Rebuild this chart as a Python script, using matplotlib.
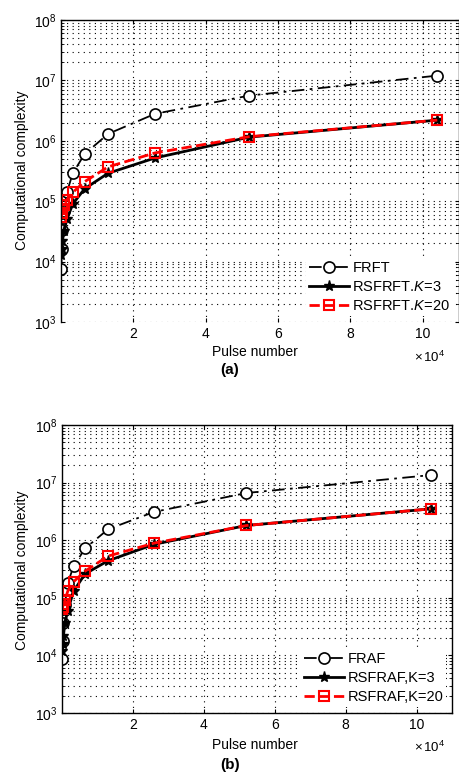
import matplotlib
matplotlib.use('Agg')
import matplotlib.pyplot as plt
import numpy as np

plt.rcParams['font.family'] = ['Liberation Sans', 'DejaVu Sans']
plt.rcParams['mathtext.fontset'] = 'custom'
plt.rcParams['mathtext.rm'] = 'Liberation Sans'
plt.rcParams['mathtext.it'] = 'Liberation Sans:italic'

# pulse number (x 10^4)
pulses = [0.0102, 0.0203, 0.0406, 0.081, 0.1625, 0.325, 0.65, 1.3, 2.6, 5.2, 10.4]

# (a) FRFT based detectors
frft = [7.5e3, 1.6e4, 3.3e4, 6.8e4, 1.4e5, 2.9e5, 6.0e5, 1.3e6, 2.8e6, 5.6e6, 1.2e7]
rsfrft_k3 = [1.3e4, 1.6e4, 2.2e4, 3.2e4, 5.0e4, 9.0e4, 1.6e5, 2.9e5, 5.2e5, 1.15e6, 2.2e6]
rsfrft_k20 = [5.5e4, 6.5e4, 7.5e4, 8.5e4, 1.05e5, 1.4e5, 2.1e5, 3.7e5, 6.3e5, 1.17e6, 2.2e6]

# (b) FRAF based detectors
fraf = [8.7e3, 1.8e4, 3.6e4, 7.5e4, 1.8e5, 3.5e5, 7.2e5, 1.55e6, 3.1e6, 6.6e6, 1.35e7]
rsfraf_k3 = [1.2e4, 1.6e4, 2.2e4, 3.6e4, 6.0e4, 1.3e5, 2.6e5, 4.4e5, 8.5e5, 1.8e6, 3.5e6]
rsfraf_k20 = [6.5e4, 7.0e4, 7.8e4, 9.0e4, 1.3e5, 1.9e5, 2.9e5, 5.3e5, 8.9e5, 1.8e6, 3.5e6]

labels_a = ['FRFT', r'RSFRFT.$K$=3', r'RSFRFT.$K$=20']
labels_b = ['FRAF', 'RSFRAF,K=3', 'RSFRAF,K=20']
xticks = [2, 4, 6, 8, 10]

W, H = 459, 781
fig = plt.figure(figsize=(W / 100, H / 100), dpi=100)

grid_ls = (0, (1, 4))


def panel(rect, ser, labels, leg_anchor):
    ax = fig.add_axes(rect)
    ax.plot(pulses, ser[0], linestyle=(0, (7, 3, 1.5, 3)), color='k', lw=1.3,
            marker='o', ms=8, mfc='white', mec='k', mew=1.2, label=labels[0])
    ax.plot(pulses, ser[1], linestyle='-', color='k', lw=2.0, marker='*',
            ms=8, mfc='k', mec='k', label=labels[1])
    ax.plot(pulses, ser[2], linestyle='--', color='red', lw=2.0, marker='s',
            ms=7, mfc='none', mec='red', mew=1.5, label=labels[2])
    ax.set_yscale('log')
    ax.set_xlim(0, 11)
    ax.set_ylim(1e3, 1e8)
    ax.set_xticks(xticks)
    ax.set_yticks([1e3, 1e4, 1e5, 1e6, 1e7, 1e8])
    ax.grid(True, which='major', axis='x', linestyle=grid_ls, color='k', lw=0.8)
    ax.grid(True, which='both', axis='y', linestyle=grid_ls, color='k', lw=0.8)
    ax.tick_params(which='both', direction='in', top=True, right=True,
                   labelsize=10, length=3)
    ax.tick_params(which='minor', length=2)
    for s in ax.spines.values():
        s.set_linewidth(1.0)
    leg = ax.legend(loc='lower right', bbox_to_anchor=leg_anchor,
                    fontsize=10.5, handlelength=2.8, handletextpad=0.2,
                    labelspacing=0.35, borderaxespad=0, borderpad=0.2,
                    fancybox=False, framealpha=1)
    leg.get_frame().set_edgecolor('none')
    return ax


ax1 = panel([61 / W, 1 - 322 / H, 398 / W, 302 / H],
            [frft, rsfrft_k3, rsfrft_k20], labels_a, (0.985, 0.02))
ax1.spines['bottom'].set_visible(False)

ax2 = panel([62 / W, 1 - 713 / H, 390 / W, 288 / H],
            [fraf, rsfraf_k3, rsfraf_k20], labels_b, (0.985, 0.02))

# axis labels and panel captions
for ylab, xlab, mult, cap, cap_y in [(170, 352, 357, '(a)', 370),
                                     (570, 745, 747, '(b)', 765)]:
    fig.text(22 / W, 1 - ylab / H, 'Computational complexity', rotation=90,
             ha='center', va='center', fontsize=10)
    fig.text(255 / W, 1 - xlab / H, 'Pulse number', ha='center', va='center',
             fontsize=10)
    fig.text(430 / W, 1 - mult / H, r'$\times\,10^4$', ha='center',
             va='center', fontsize=9.5)
    fig.text(230 / W, 1 - cap_y / H, cap, ha='center', va='center',
             fontsize=11, fontweight='bold')

fig.savefig('out.png', dpi=100)
